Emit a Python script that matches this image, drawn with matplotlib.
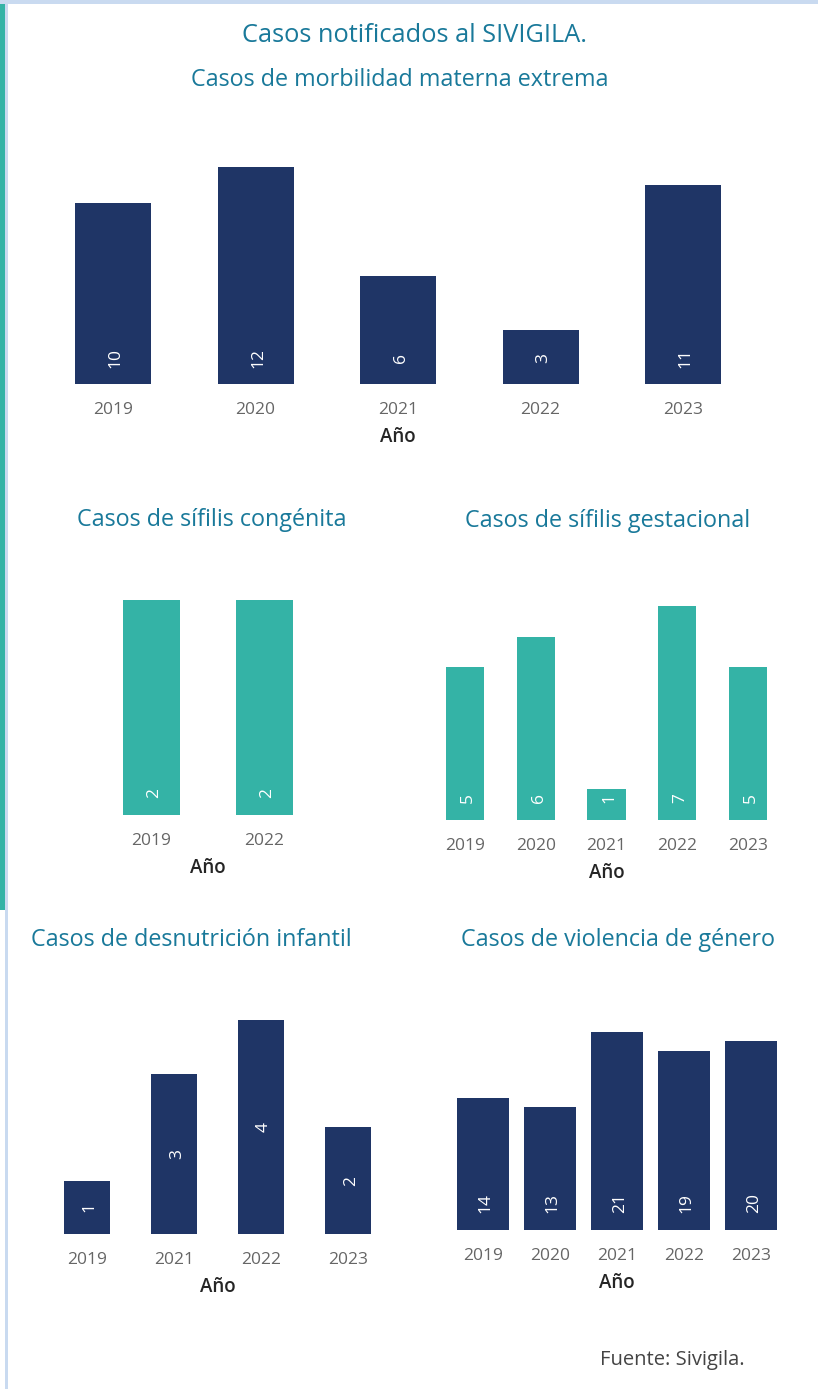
import matplotlib
matplotlib.use("Agg")
import matplotlib.pyplot as plt
from matplotlib.patches import Rectangle

plt.rcParams['font.family'] = ['Open Sans', 'DejaVu Sans']

# ---- data ----
morb_years = ["2019", "2020", "2021", "2022", "2023"]
morb_vals = [10, 12, 6, 3, 11]

sif_cong_years = ["2019", "2022"]
sif_cong_vals = [2, 2]

sif_gest_years = ["2019", "2020", "2021", "2022", "2023"]
sif_gest_vals = [5, 6, 1, 7, 5]

desnut_years = ["2019", "2021", "2022", "2023"]
desnut_vals = [1, 3, 4, 2]

viol_years = ["2019", "2020", "2021", "2022", "2023"]
viol_vals = [14, 13, 21, 19, 20]

W, H = 818, 1389
DPI = 100
fig = plt.figure(figsize=(W / DPI, H / DPI), dpi=DPI)
fig.patch.set_facecolor("white")

NAVY = "#1f3566"
TEAL = "#34b3a6"
TITLE_C = "#19799a"
TICK_C = "#666666"
LAB_C = "#252525"
BORDER = "#c9daf0"


def px_axes(left, right, top, bottom):
    return fig.add_axes([left / W, 1 - bottom / H, (right - left) / W, (bottom - top) / H])


def rect_px(x0, y0, x1, y1, color):
    fig.patches.append(Rectangle((x0 / W, 1 - y1 / H), (x1 - x0) / W, (y1 - y0) / H,
                                 transform=fig.transFigure, facecolor=color,
                                 edgecolor="none", zorder=0))


# borders
rect_px(0, 0, W, 4, BORDER)
rect_px(0, 4, 5, 910, TEAL)
rect_px(5, 4, 8, H, BORDER)


def bar_chart(years, vals, color, left, right, top, bottom, ymax, width,
              label_mode="bottom", label_off=26):
    ax = px_axes(left, right, top, bottom)
    x = list(range(len(years)))
    ax.bar(x, vals, width=width, color=color)
    ax.set_xlim(-0.5, len(years) - 0.5)
    ax.set_ylim(0, ymax)
    ax.set_xticks(x)
    ax.set_xticklabels(years, fontsize=12.5, color=TICK_C)
    ax.tick_params(axis="x", length=0, pad=13)
    ax.set_yticks([])
    for s in ax.spines.values():
        s.set_visible(False)
    ax.set_xlabel("Año", fontsize=13.5, color=LAB_C, labelpad=6.5, fontweight="semibold")
    for xi, v in zip(x, vals):
        if label_mode == "center":
            ax.annotate(str(v), xy=(xi, v / 2), xytext=(2, 0),
                        textcoords="offset points", rotation=90,
                        ha="center", va="center", color="white", fontsize=12.5)
        else:
            ax.annotate(str(v), xy=(xi, 0), xytext=(2, label_off * 72 / DPI),
                        textcoords="offset points", rotation=90,
                        ha="center", va="center", color="white", fontsize=12.5)
    return ax


# Titles
fig.text(415 / W, 1 - 35 / H, "Casos notificados al SIVIGILA.", ha="center", va="center",
         fontsize=18.3, color=TITLE_C)
fig.text(400 / W, 1 - 80 / H, "Casos de morbilidad materna extrema", ha="center", va="center",
         fontsize=16.8, color=TITLE_C)

# Chart 1
bar_chart(morb_years, morb_vals, NAVY, 41.75, 754.25, 167, 384, 12, 76 / 142.5,
          label_off=26)

# Chart 2
fig.text(212 / W, 1 - 520 / H, "Casos de sífilis congénita", ha="center", va="center",
         fontsize=16.8, color=TITLE_C)
bar_chart(sif_cong_years, sif_cong_vals, TEAL, 94.5, 320.5, 600, 815, 2, 57 / 113,
          label_off=22)

# Chart 3
fig.text(608 / W, 1 - 521 / H, "Casos de sífilis gestacional", ha="center", va="center",
         fontsize=16.8, color=TITLE_C)
bar_chart(sif_gest_years, sif_gest_vals, TEAL, 429.6, 783.4, 606, 820, 7, 38 / 70.75,
          label_off=22)

# Chart 4
fig.text(191 / W, 1 - 940 / H, "Casos de desnutrición infantil", ha="center", va="center",
         fontsize=16.8, color=TITLE_C)
bar_chart(desnut_years, desnut_vals, NAVY, 43.5, 391.5, 1020, 1234, 4, 46 / 87,
          label_mode="center")

# Chart 5
fig.text(618 / W, 1 - 940 / H, "Casos de violencia de género", ha="center", va="center",
         fontsize=16.8, color=TITLE_C)
bar_chart(viol_years, viol_vals, NAVY, 449.5, 784.5, 1032, 1230, 21, 52 / 67,
          label_off=27)

fig.text(600 / W, 1 - 1360 / H, "Fuente: Sivigila.", ha="left", va="center",
         fontsize=14.5, color="#444444")

fig.savefig("out.png", dpi=DPI, facecolor="white")
